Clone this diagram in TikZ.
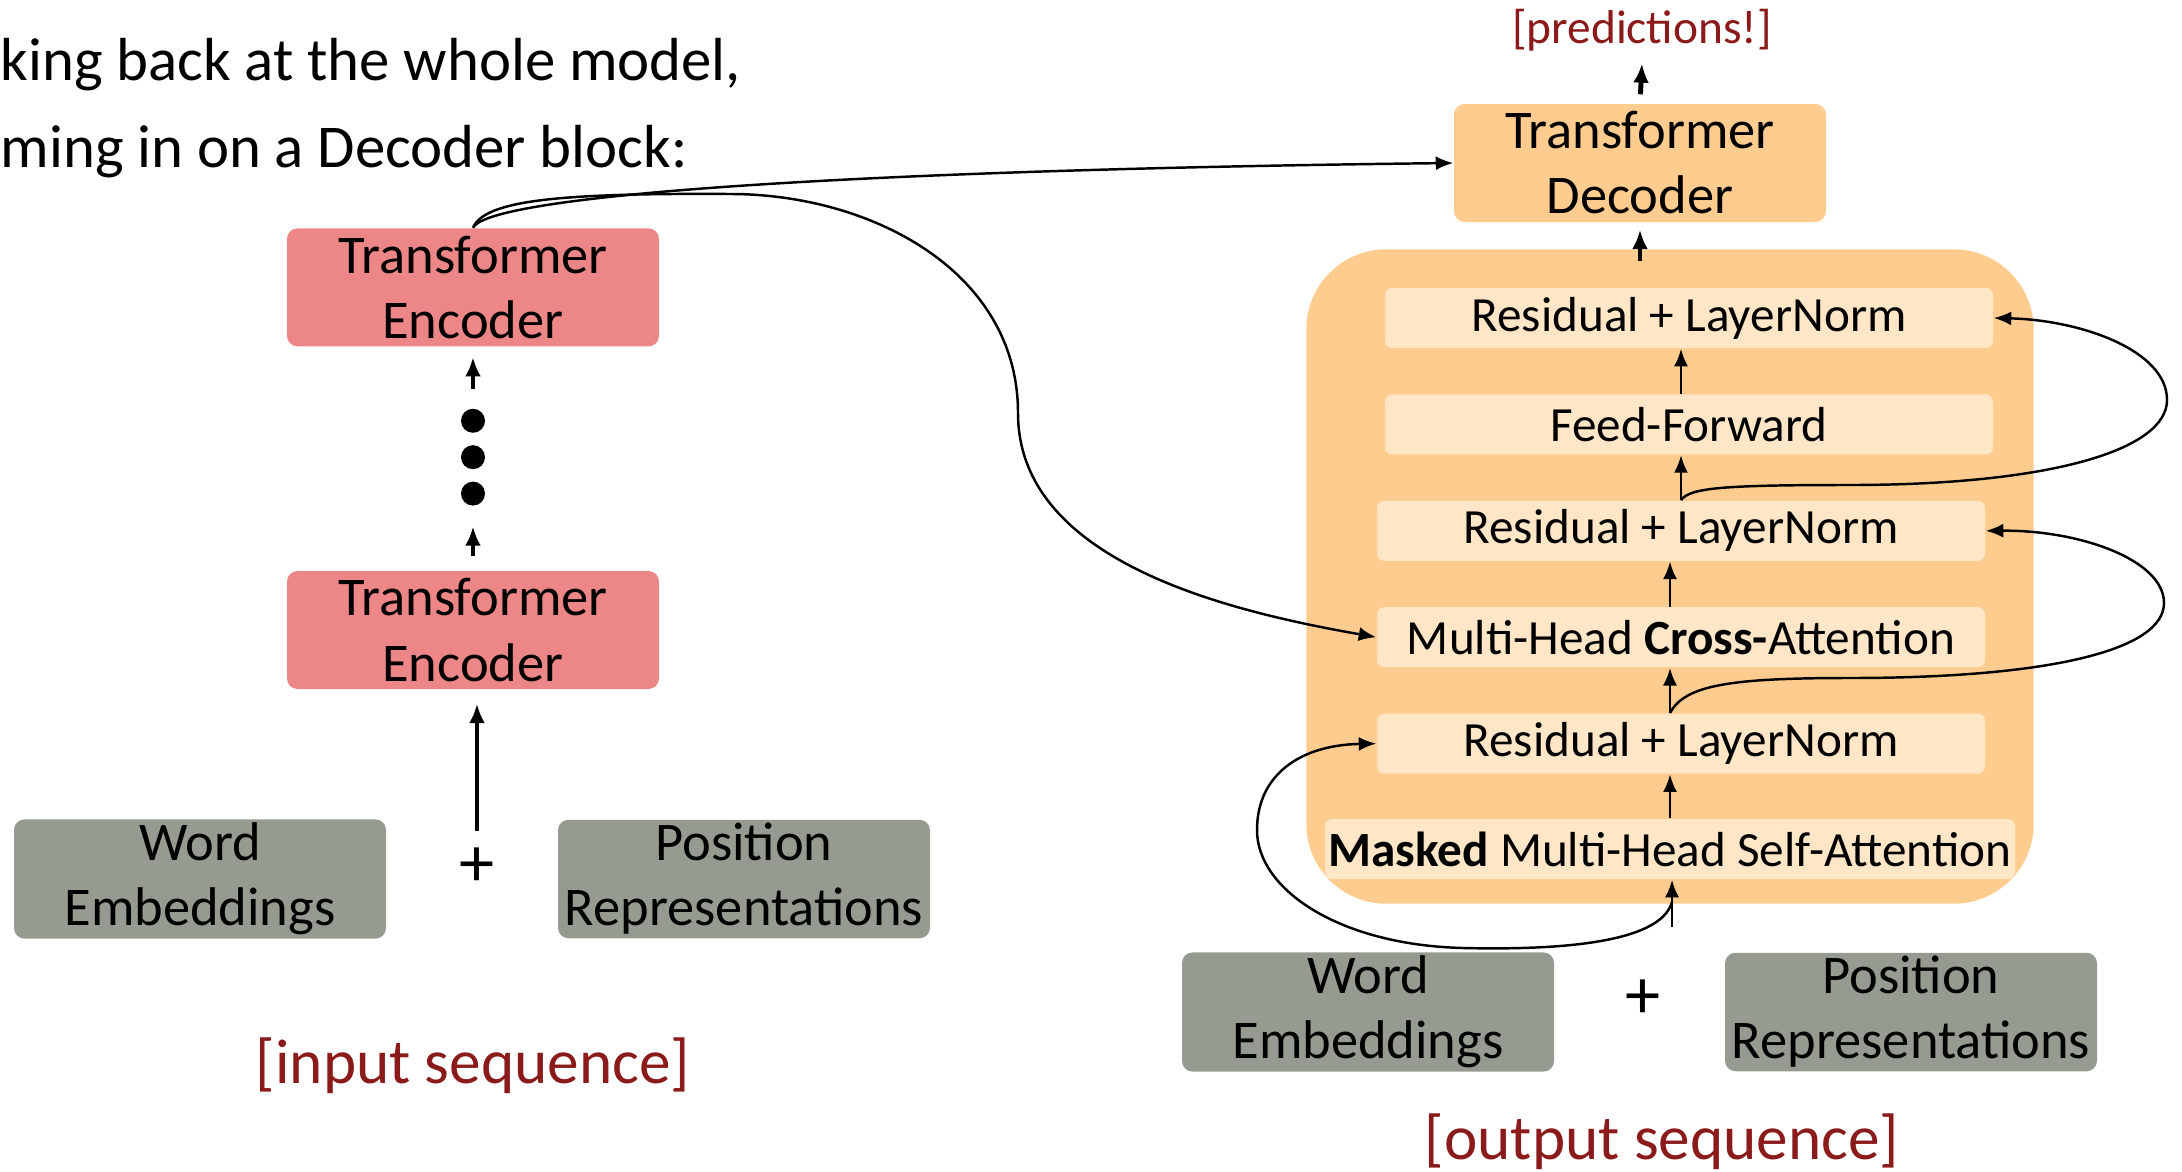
\documentclass[tikz,border=0pt]{standalone}
\usepackage{fontspec}
\setmainfont{Carlito}
\usepackage{xcolor}
\usetikzlibrary{arrows.meta,positioning,fit,backgrounds}

\definecolor{encred}{RGB}{237,134,134}
\definecolor{embgray}{RGB}{149,155,144}
\definecolor{decorange}{RGB}{255,204,143}
\definecolor{sublayer}{RGB}{255,230,199}
\definecolor{seqred}{RGB}{139,26,26}

\begin{document}
\begin{tikzpicture}[
    node distance=0.45cm,
    box/.style={rectangle, rounded corners=3pt, minimum width=3.72cm, minimum height=1.18cm, align=center, inner sep=1pt, font=\fontsize{15.5}{18.5}\selectfont},
    sub/.style={rectangle, rounded corners=2pt, fill=sublayer, minimum width=6.08cm, minimum height=0.6cm, inner xsep=1pt, inner ysep=0pt, font=\fontsize{14}{16}\selectfont},
    seq/.style={text=seqred, font=\fontsize{18}{21}\selectfont},
    intro/.style={anchor=base west, inner sep=0pt, font=\fontsize{17.3}{21}\selectfont},
    plus/.style={font=\fontsize{20}{22}\selectfont},
    ellipsisdot/.style={circle, fill=black, minimum size=0.24cm, inner sep=0pt},
    arrow/.style={-{Latex[length=5.5pt,width=4.5pt]}, line width=1.4pt},
    link/.style={-{Latex[length=5pt,width=4pt]}, line width=0.7pt}
]
\useasboundingbox (0,0) rectangle (21.82,-11.72);

% heading
\node[intro] (line1) at (0,-0.80) {king back at the whole model,};
\node[intro] (line2) at (0,-1.68) {ming in on a Decoder block:};

% encoder side
\node[box, fill=embgray] (wordL) at (2.00,-8.79) {Word\\Embeddings};
\node[box, fill=embgray] (posL) at (7.44,-8.79) {Position\\Representations};
\node[plus] (plusL) at (4.77,-8.67) {+};
\node[box, fill=encred] (enc1) at (4.73,-6.30) {Transformer\\Encoder};
\node[ellipsisdot, above=0.64cm of enc1] (dot3) {};
\node[ellipsisdot, above=0.11cm of dot3] (dot2) {};
\node[ellipsisdot, above=0.11cm of dot2] (dot1) {};
\node[box, fill=encred, above=0.61cm of dot1] (enc2) {Transformer\\Encoder};
\node[seq] (inseq) at (4.73,-10.66) {[input sequence]};
\coordinate (sumL) at (4.77,-8.31);

\draw[arrow, shorten >=0.14cm] (sumL) -- (sumL |- enc1.south);
\draw[arrow, shorten <=0.14cm, shorten >=0.2cm] (enc1.north) -- (dot3);
\draw[arrow, shorten <=0.19cm, shorten >=0.1cm] (dot1) -- (enc2.south);

% decoder block
\node[sub] (rn3) at (16.89,-3.18) {Residual + LayerNorm};
\node[sub, below=of rn3] (ff) {Feed-Forward};
\node[sub, below=of ff, xshift=-0.08cm] (rn2) {Residual + LayerNorm};
\node[sub, below=of rn2] (cross) {Multi-Head \textbf{Cross-}Attention};
\node[sub, below=of cross] (rn1) {Residual + LayerNorm};
\node[sub, below=0.44cm of rn1, xshift=-0.11cm, minimum width=6.88cm] (masked) {\textbf{Masked} Multi-Head Self-Attention};
\begin{scope}[on background layer]
\node[fit=(rn3)(masked), inner xsep=0.18cm, inner ysep=0.31cm, yshift=0.07cm, fill=decorange, rounded corners=0.8cm] (block) {};
\end{scope}

\node[box, fill=decorange] (dec) at (16.40,-1.63) {Transformer\\Decoder};
\node[text=seqred, font=\fontsize{13.5}{16}\selectfont] (pred) at (16.42,-0.30) {[predictions!]};

\node[box, fill=embgray] (wordR) at (13.68,-10.12) {Word\\Embeddings};
\node[box, fill=embgray] (posR) at (19.11,-10.12) {Position\\Representations};
\node[plus] (plusR) at (16.43,-9.99) {+};
\node[seq] (outseq) at (16.62,-11.42) {[output sequence]};
\coordinate (inp) at (16.72,-9.27);

\draw[arrow, shorten <=-0.12cm, shorten >=0.07cm] (block.north -| dec.south) -- (dec.south);
\draw[arrow, shorten <=0.09cm] (dec.north) -- (pred.south);

\draw[link] (inp) -- (inp |- masked.south);
\draw[link] (masked.north) -- (masked.north |- rn1.south);
\draw[link] (rn1.north -| masked.north) -- (cross.south -| masked.north);
\draw[link] (cross.north -| masked.north) -- (rn2.south -| masked.north);
\draw[link] (rn2.north) -- (ff.south -| rn2.north);
\draw[link] (ff.north -| rn2.north) -- (rn3.south -| rn2.north);

% residual connections
\draw[link] ([yshift=0.25cm]inp) .. controls (16.6,-9.45) and (15.5,-9.5) .. (14.63,-9.48)
    .. controls (13.4,-9.45) and (12.57,-8.9) .. (12.57,-8.3)
    .. controls (12.57,-7.75) and (13.0,-7.45) .. (rn1.west);
\draw[link] (rn1.north -| masked.north) .. controls (16.85,-6.85) and (17.3,-6.78) .. (18.5,-6.78)
    .. controls (20.5,-6.78) and (21.64,-6.5) .. (21.64,-6.03)
    .. controls (21.64,-5.6) and (20.8,-5.3) .. (rn2.east);
\draw[link] (rn2.north) .. controls (16.9,-4.88) and (17.2,-4.85) .. (18.5,-4.85)
    .. controls (20.5,-4.85) and (21.67,-4.5) .. (21.67,-4.0)
    .. controls (21.67,-3.5) and (20.8,-3.2) .. (rn3.east);

% encoder output into the decoder
\draw[link] (enc2.north) .. controls (4.9,-1.95) and (8.5,-1.7) .. (dec.west);
\draw[link] (enc2.north) .. controls (4.85,-2.0) and (5.6,-1.93) .. (7.3,-1.94)
    to[out=0, in=90] (10.18,-4.13) to[out=-90, in=170, looseness=0.9] (cross.west);
\end{tikzpicture}
\end{document}
